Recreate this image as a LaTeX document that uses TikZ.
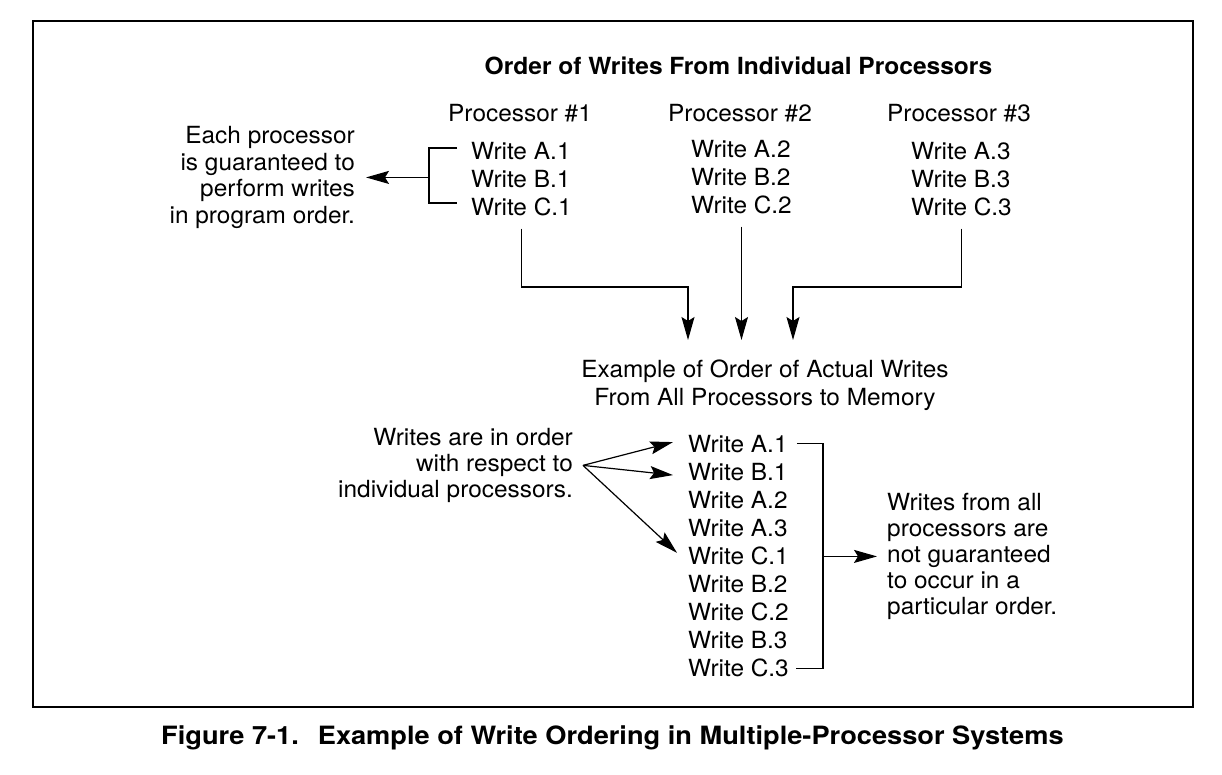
\documentclass[tikz,border=0pt]{standalone}
\usepackage{fontspec}
\setmainfont{TeX Gyre Heros}[FakeStretch=1.034]
\newfontfamily\titlefont{TeX Gyre Heros}[FakeStretch=1.04]
\newfontfamily\capfont{TeX Gyre Heros}[FakeStretch=1.08]
\usetikzlibrary{arrows.meta,calc}
\begin{document}
\begin{tikzpicture}[x=1pt,y=-1pt,
  txt/.style={inner sep=0pt,font=\fontsize{23.6}{28}\selectfont},
  bold/.style={inner sep=0pt,font=\fontsize{23.6}{28}\selectfont\titlefont\bfseries},
  note/.style={inner sep=0pt,font=\fontsize{23.6}{26}\selectfont},
  ln/.style={line width=1.2pt},
  arr/.style={line width=1.2pt,-{Stealth[length=23pt,width=13pt,inset=4pt]}}]
\useasboundingbox (0,0) rectangle (1222,774);
\draw[line width=1.5pt] (33,21) rectangle (1193,707);

% title
\node[bold,anchor=base] (title) at (738.5,74) {Order of Writes From Individual Processors};

% processor headers
\node[txt,anchor=base west] (h1) at (448,121) {Processor \#1};
\node[txt,anchor=base west] (h2) at (668,121) {Processor \#2};
\node[txt,anchor=base west] (h3) at (887,121) {Processor \#3};

% processor write lists
\node[txt,anchor=base west] (pA1) at (471,159) {Write A.1};
\node[txt,anchor=base west] (pB1) at (471,187) {Write B.1};
\node[txt,anchor=base west] (pC1) at (471,215) {Write C.1};
\node[txt,anchor=base west] (pA2) at (691,157) {Write A.2};
\node[txt,anchor=base west] (pB2) at (691,185) {Write B.2};
\node[txt,anchor=base west] (pC2) at (691,213) {Write C.2};
\node[txt,anchor=base west] (pA3) at (911,159) {Write A.3};
\node[txt,anchor=base west] (pB3) at (911,187) {Write B.3};
\node[txt,anchor=base west] (pC3) at (911,215) {Write C.3};

% left annotation
\node[inner sep=0pt,font=\fontsize{23.6}{26.7}\selectfont,align=right,anchor=north east] (ann1) at (355,126)
  {Each processor\\is guaranteed to\\perform writes\\in program order.};

% bracket for processor 1
\draw[ln] ([xshift=-14pt,yshift=2.5pt]pA1.west) -- ++(-28,0) coordinate (lbt)
  |- ([xshift=-14pt,yshift=3.5pt]pC1.west);
\coordinate (lbm) at (lbt |- ann1.east);
\draw[arr] (lbm) -- ([xshift=11pt]ann1.east);

% heading
\node[txt,align=center,anchor=north] (hd) at (765,360)
  {Example of Order of Actual Writes\\From All Processors to Memory};

% top connectors
\draw[arr] ([yshift=-13pt]pC1.south) |- ($(hd.north)+(-77,-73)$) -- ($(hd.north)+(-77,-20)$);
\draw[arr,shorten >=20pt] ([yshift=-13pt]pC2.south) -- (pC2.south |- hd.north);
\draw[arr] ([yshift=-13pt]pC3.south) |- ($(hd.north)+(28,-73)$) -- ($(hd.north)+(28,-20)$);

% memory order list
\node[txt,anchor=base west] (bA1) at (688,452.0) {Write A.1};
\node[txt,anchor=base west] (bB1) at (688,480.1) {Write B.1};
\node[txt,anchor=base west] (bA2) at (688,508.2) {Write A.2};
\node[txt,anchor=base west] (bA3) at (688,536.3) {Write A.3};
\node[txt,anchor=base west] (bC1) at (688,564.4) {Write C.1};
\node[txt,anchor=base west] (bB2) at (688,592.5) {Write B.2};
\node[txt,anchor=base west] (bC2) at (688,620.6) {Write C.2};
\node[txt,anchor=base west] (bB3) at (688,648.7) {Write B.3};
\node[txt,anchor=base west] (bC3) at (688,676.8) {Write C.3};

% bottom-left annotation
\node[note,align=right,anchor=north east] (ann2) at (573,428)
  {Writes are in order\\with respect to\\individual processors.};
\coordinate (ls) at ([xshift=10pt]ann2.east);
\draw[arr] (ls) -- ([xshift=-15pt,yshift=1.5pt]bA1.west);
\draw[arr] (ls) -- ([xshift=-15pt,yshift=-3.4pt]bB1.west);
\draw[arr] (ls) -- ([xshift=-11pt,yshift=3pt]bC1.west);

% right bracket
\coordinate (rbx) at (823,0);
\draw[ln] ([xshift=9pt]bA1.east) -- (bA1.east -| rbx) -- (bC3.east -| rbx) -- ([xshift=7pt]bC3.east);

% right annotation
\node[note,align=left,anchor=north west] (ann3) at (887,493)
  {Writes from all\\processors are\\not guaranteed\\to occur in a\\particular order.};
\draw[arr] (ann3.west -| rbx) -- ([xshift=-10pt]ann3.west);

% caption
\node[inner sep=0pt,font=\fontsize{25.2}{30}\selectfont\capfont\bfseries,anchor=base west] (cap) at (161,744)
  {Figure 7-1.\hspace{19pt}Example of Write Ordering in Multiple-Processor Systems};
\end{tikzpicture}
\end{document}
